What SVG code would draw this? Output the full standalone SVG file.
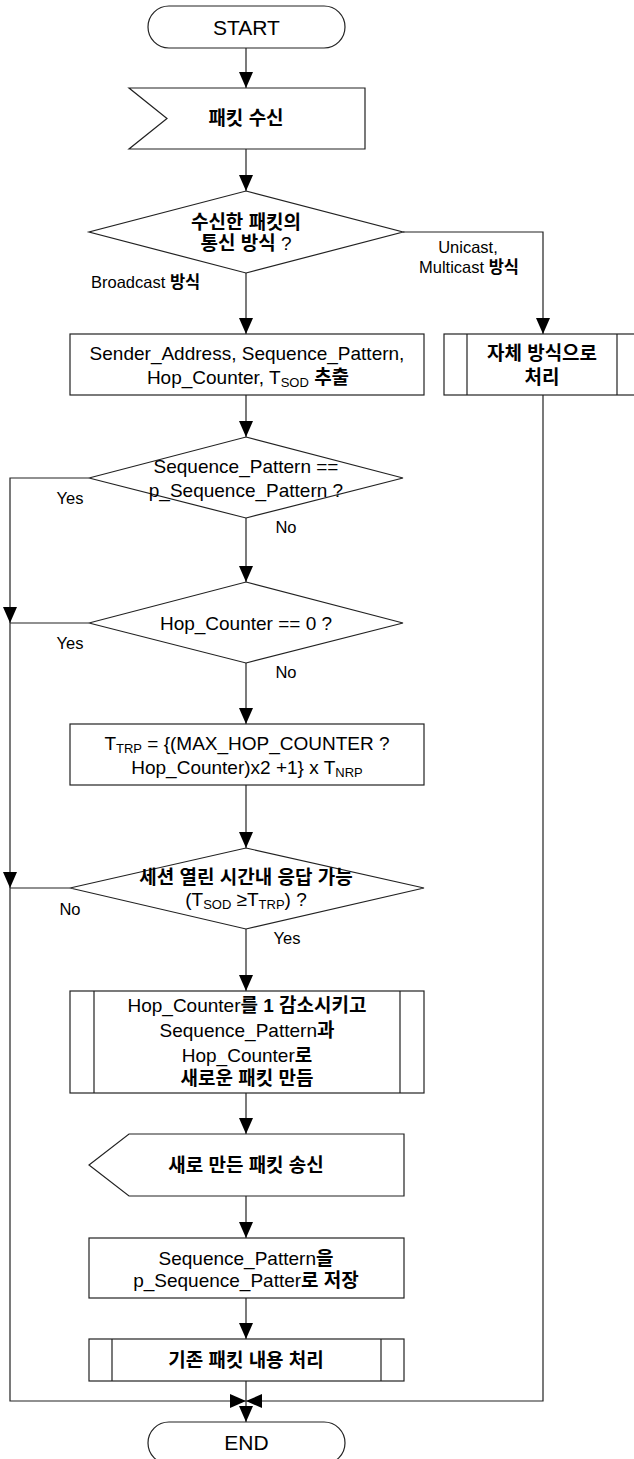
<svg xmlns="http://www.w3.org/2000/svg" width="634" height="1459" viewBox="0 0 634 1459">
<style>
.s{fill:#fff;stroke:#222;stroke-width:1.2}
.c{fill:none;stroke:#222;stroke-width:1.2}
text{font-family:"Liberation Sans","Noto Sans CJK KR",sans-serif;fill:#000}
.n{font-size:19px;text-anchor:middle}
.t{font-size:21px;text-anchor:middle}
.l{font-size:16.5px}
.m{text-anchor:middle}
.k{font-weight:bold}
.sb{font-size:13px}
</style>
<defs>
<marker id="a" markerUnits="userSpaceOnUse" markerWidth="16" markerHeight="14" refX="16" refY="7" orient="auto">
<path d="M0,0 L16,7 L0,14 z" fill="#000"/>
</marker>
</defs>
<rect width="634" height="1459" fill="#fff"/>
<g id="connectors">
<path class="c" d="M246,48 V88" marker-end="url(#a)"/>
<path class="c" d="M246,149 V191" marker-end="url(#a)"/>
<path class="c" d="M246,273 V334" marker-end="url(#a)"/>
<path class="c" d="M403,232 H543 V334" marker-end="url(#a)"/>
<path class="c" d="M246,395 V437" marker-end="url(#a)"/>
<path class="c" d="M246,518 V582" marker-end="url(#a)"/>
<path class="c" d="M89,478 H10 V623" marker-end="url(#a)"/>
<path class="c" d="M246,663 V724" marker-end="url(#a)"/>
<path class="c" d="M89,623 H10 V888" marker-end="url(#a)"/>
<path class="c" d="M246,785 V848" marker-end="url(#a)"/>
<path class="c" d="M70,888 H10 V1401 H246" marker-end="url(#a)"/>
<path class="c" d="M246,929 V991" marker-end="url(#a)"/>
<path class="c" d="M246,1093 V1134" marker-end="url(#a)"/>
<path class="c" d="M246,1196 V1238" marker-end="url(#a)"/>
<path class="c" d="M246,1298 V1339" marker-end="url(#a)"/>
<path class="c" d="M543,395 V1401 H246" marker-end="url(#a)"/>
<path class="c" d="M246,1381 V1422" marker-end="url(#a)"/>
</g>
<g id="start">
<rect class="s" x="148" y="6" width="197" height="42" rx="21" ry="21"/>
<text class="t" x="246.5" y="34.5">START</text>
</g>
<g id="receive">
<polygon class="s" points="129,88 365,88 365,149 129,149 167,118.5"/>
<text class="n k" x="246" y="125">패킷 수신</text>
</g>
<g id="decision1">
<polygon class="s" points="246,191 403,232 246,273 89,232"/>
<text class="n k" x="246" y="229">수신한 패킷의</text>
<text class="n" x="246" y="250"><tspan class="k">통신 방식</tspan> ?</text>
<text class="l" x="91" y="288">Broadcast <tspan class="k">방식</tspan></text>
<text class="l m" x="468" y="253">Unicast,</text>
<text class="l m" x="469" y="273">Multicast <tspan class="k">방식</tspan></text>
</g>
<g id="extract">
<rect class="s" x="70" y="334" width="354" height="61"/>
<text class="n" x="247" y="360">Sender_Address, Sequence_Pattern,</text>
<text class="n" x="248" y="384">Hop_Counter, T<tspan class="sb" dy="3">SOD</tspan><tspan class="k" dy="-3"> 추출</tspan></text>
</g>
<g id="own">
<rect class="s" x="444" y="334" width="196" height="61"/>
<path class="c" d="M467,334 V395 M617,334 V395"/>
<text class="n k" x="542" y="360">자체 방식으로</text>
<text class="n k" x="542" y="384">처리</text>
</g>
<g id="decision2">
<polygon class="s" points="246,437 403,478 246,518 89,478"/>
<text class="n" x="246" y="473">Sequence_Pattern ==</text>
<text class="n" x="246" y="497">p_Sequence_Pattern ?</text>
<text class="l m" x="70" y="504">Yes</text>
<text class="l m" x="286" y="533">No</text>
</g>
<g id="decision3">
<polygon class="s" points="246,582 403,623 246,663 89,623"/>
<text class="n" x="246" y="630">Hop_Counter == 0 ?</text>
<text class="l m" x="70" y="649">Yes</text>
<text class="l m" x="286" y="678">No</text>
</g>
<g id="ttrp">
<rect class="s" x="70" y="724" width="354" height="61"/>
<text class="n" x="247" y="750">T<tspan class="sb" dy="3">TRP</tspan><tspan dy="-3"> = {(MAX_HOP_COUNTER ?</tspan></text>
<text class="n" x="247" y="774">Hop_Counter)x2 +1} x T<tspan class="sb" dy="3">NRP</tspan></text>
</g>
<g id="decision4">
<polygon class="s" points="246,848 424,888 246,929 70,888"/>
<text class="n k" x="246" y="884">세션 열린 시간내 응답 가능</text>
<text class="n" x="246" y="906">(T<tspan class="sb" dy="3">SOD</tspan><tspan dy="-3"> ≥T</tspan><tspan class="sb" dy="3">TRP</tspan><tspan dy="-3">) ?</tspan></text>
<text class="l m" x="70" y="915">No</text>
<text class="l m" x="287" y="944">Yes</text>
</g>
<g id="newpacket">
<rect class="s" x="70" y="991" width="354" height="102"/>
<path class="c" d="M94,991 V1093 M400,991 V1093"/>
<text class="n" x="247" y="1012">Hop_Counter<tspan class="k">를 1 감소시키고</tspan></text>
<text class="n" x="247" y="1037">Sequence_Pattern<tspan class="k">과</tspan></text>
<text class="n" x="247" y="1062">Hop_Counter<tspan class="k">로</tspan></text>
<text class="n k" x="247" y="1085">새로운 패킷 만듬</text>
</g>
<g id="send">
<polygon class="s" points="129,1134 404,1134 404,1196 129,1196 89,1165"/>
<text class="n k" x="246" y="1172">새로 만든 패킷 송신</text>
</g>
<g id="store">
<rect class="s" x="89" y="1238" width="315" height="60"/>
<text class="n" x="246" y="1265">Sequence_Pattern<tspan class="k">을</tspan></text>
<text class="n" x="246" y="1287">p_Sequence_Patter<tspan class="k">로 저장</tspan></text>
</g>
<g id="process">
<rect class="s" x="89" y="1339" width="315" height="42"/>
<path class="c" d="M112,1339 V1381 M381,1339 V1381"/>
<text class="n k" x="246" y="1367">기존 패킷 내용 처리</text>
</g>
<g id="end">
<rect class="s" x="148" y="1422" width="197" height="42" rx="21" ry="21"/>
<text class="t" x="246.5" y="1450">END</text>
</g>
</svg>
